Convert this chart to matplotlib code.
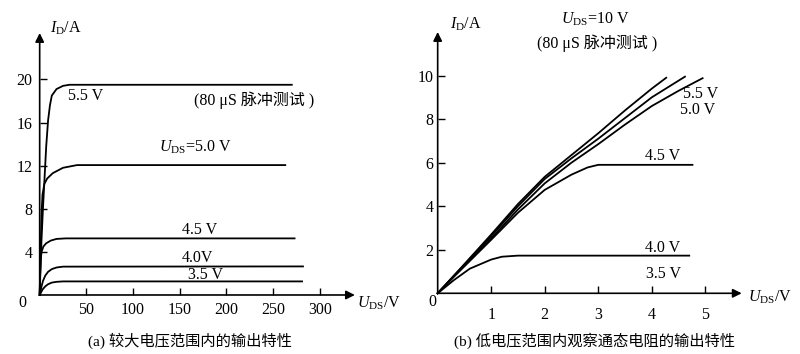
import matplotlib
matplotlib.use("Agg")
import matplotlib.pyplot as plt

plt.rcParams['font.family'] = ['Liberation Serif', 'Noto Sans CJK SC']
plt.rcParams['mathtext.fontset'] = 'custom'
plt.rcParams['mathtext.rm'] = 'Liberation Serif'
plt.rcParams['mathtext.it'] = 'Liberation Serif:italic'

# ---------------- data: panel (a) ----------------
a_xticks = [50, 100, 150, 200, 250, 300]
a_yticks = [4, 8, 12, 16, 20]
a55_v = [0, 1, 2, 3.5, 5, 7, 9, 11, 13, 18, 25, 32, 270]
a55_i = [0, 2.8, 5.2, 8, 10.5, 13.8, 16.2, 17.6, 18.5, 19.1, 19.4, 19.5, 19.5]
a50_v = [0, 1, 2, 3, 5, 8, 14, 25, 40, 263]
a50_i = [0, 4, 7.5, 9.3, 10.3, 10.8, 11.3, 11.8, 12.05, 12.05]
a45_v = [0, 0.5, 1, 2, 4, 7, 12, 18, 28, 273]
a45_i = [0, 2, 3.2, 4, 4.5, 4.8, 5.05, 5.2, 5.25, 5.25]
a40_v = [0, 2, 3.5, 6, 9, 13, 18, 25, 282]
a40_i = [0, 0.8, 1.3, 1.8, 2.15, 2.4, 2.55, 2.63, 2.65]
a35_v = [0, 3, 6, 9, 13, 18, 25, 281]
a35_i = [0, 0.5, 0.8, 1.0, 1.15, 1.22, 1.26, 1.26]

# ---------------- data: panel (b) ----------------
b_xticks = [1, 2, 3, 4, 5]
b_yticks = [2, 4, 6, 8, 10]
bA_v = [0, 0.3, 1, 1.5, 2, 2.5, 3, 3.5, 4, 4.27]
bA_i = [0, 0.8, 2.7, 4.1, 5.35, 6.35, 7.35, 8.4, 9.4, 9.9]
bB_v = [0, 0.3, 1, 1.5, 2, 2.5, 3, 3.5, 4, 4.62]
bB_i = [0, 0.8, 2.62, 4.0, 5.25, 6.2, 7.1, 8.05, 9.0, 9.95]
bC_v = [0, 0.3, 1, 1.5, 2, 2.5, 3, 3.5, 4, 4.5, 4.95]
bC_i = [0, 0.78, 2.52, 3.85, 5.05, 6.0, 6.85, 7.75, 8.6, 9.3, 9.88]
bD_v = [0, 0.3, 1, 1.5, 2, 2.5, 2.8, 3, 3.5, 4.76]
bD_i = [0, 0.75, 2.46, 3.7, 4.75, 5.45, 5.78, 5.9, 5.9, 5.9]
bE_v = [0, 0.3, 0.6, 1, 1.2, 1.5, 4.7]
bE_i = [0, 0.6, 1.13, 1.55, 1.68, 1.73, 1.73]

fig = plt.figure(figsize=(8.0, 3.54), dpi=100)

LW = 1.3
FS = 11.5


def setup(ax, xt, yt, xpad, ypad):
    for s in ax.spines.values():
        s.set_visible(False)
    ax.set_xticks(xt)
    ax.set_yticks(yt)
    ax.set_xticklabels([str(t) for t in xt])
    ax.set_yticklabels([str(t) for t in yt])
    ax.tick_params(axis='both', direction='in', length=5, width=1.0,
                   labelsize=FS)
    ax.tick_params(axis='x', pad=xpad)
    ax.tick_params(axis='y', pad=ypad)
    ax.annotate('', xy=(1, 0), xytext=(0, 0), xycoords='axes fraction',
                arrowprops=dict(arrowstyle='-|>', lw=1.2, color='black',
                                mutation_scale=13, shrinkA=0, shrinkB=0))
    ax.annotate('', xy=(0, 1), xytext=(0, 0), xycoords='axes fraction',
                arrowprops=dict(arrowstyle='-|>', lw=1.2, color='black',
                                mutation_scale=13, shrinkA=0, shrinkB=0))


# ---------------- panel (a) ----------------
axa = fig.add_axes([0.0496, 0.1667, 0.394, 0.740])
axa.set_xlim(0, 337.6)
axa.set_ylim(0, 24.3)
setup(axa, a_xticks, a_yticks, 5, 5)
for v, i in [(a55_v, a55_i), (a50_v, a50_i), (a45_v, a45_i),
             (a40_v, a40_i), (a35_v, a35_i)]:
    axa.plot(v, i, color='black', lw=LW, clip_on=False)

kw = dict(fontsize=FS, color='black', clip_on=False)
axa.text(11, 24.7, r'$I_{\rm D}$/A', ha='left', va='center', **kw)
axa.text(49.6, 18.5, '5.5 V', ha='center', va='center', **kw)
axa.text(230, 18.1, '(80 μS 脉冲测试 )', ha='center', va='center', **kw)
axa.text(167, 13.7, r'$U_{\rm DS}$=5.0 V', ha='center', va='center', **kw)
axa.text(171.6, 6.0, '4.5 V', ha='center', va='center', **kw)
axa.text(168.5, 3.43, '4.0V', ha='center', va='center', **kw)
axa.text(178, 1.85, '3.5 V', ha='center', va='center', **kw)
axa.text(340, -0.74, r'$U_{\rm DS}$/V', ha='left', va='center', **kw)
axa.text(-19, -0.74, '0', ha='center', va='center', **kw)

# ---------------- panel (b) ----------------
axb = fig.add_axes([0.5471, 0.1715, 0.380, 0.738])
axb.set_xlim(0, 5.68)
axb.set_ylim(0, 12.0)
setup(axb, b_xticks, b_yticks, 10, 3)
for v, i in [(bA_v, bA_i), (bB_v, bB_i), (bC_v, bC_i),
             (bD_v, bD_i), (bE_v, bE_i)]:
    axb.plot(v, i, color='black', lw=LW, clip_on=False)

axb.text(0.23, 12.35, r'$I_{\rm D}$/A', ha='left', va='center', **kw)
axb.text(2.95, 12.58, r'$U_{\rm DS}$=10 V', ha='center', va='center', **kw)
axb.text(2.97, 11.5, '(80 μS 脉冲测试 )', ha='center', va='center', **kw)
axb.text(4.91, 9.14, '5.5 V', ha='center', va='center', **kw)
axb.text(4.86, 8.4, '5.0 V', ha='center', va='center', **kw)
axb.text(4.2, 6.3, '4.5 V', ha='center', va='center', **kw)
axb.text(4.2, 2.1, '4.0 V', ha='center', va='center', **kw)
axb.text(4.22, 0.9, '3.5 V', ha='center', va='center', **kw)
axb.text(5.79, -0.17, r'$U_{\rm DS}$/V', ha='left', va='center', **kw)
axb.text(-0.1, -0.4, '0', ha='center', va='center', **kw)

# captions
fig.text(190 / 800, 1 - 341 / 354, '(a) 较大电压范围内的输出特性',
         ha='center', va='center', fontsize=11)
fig.text(594 / 800, 1 - 341 / 354, '(b) 低电压范围内观察通态电阻的输出特性',
         ha='center', va='center', fontsize=11)

fig.savefig('out.png', dpi=100)
